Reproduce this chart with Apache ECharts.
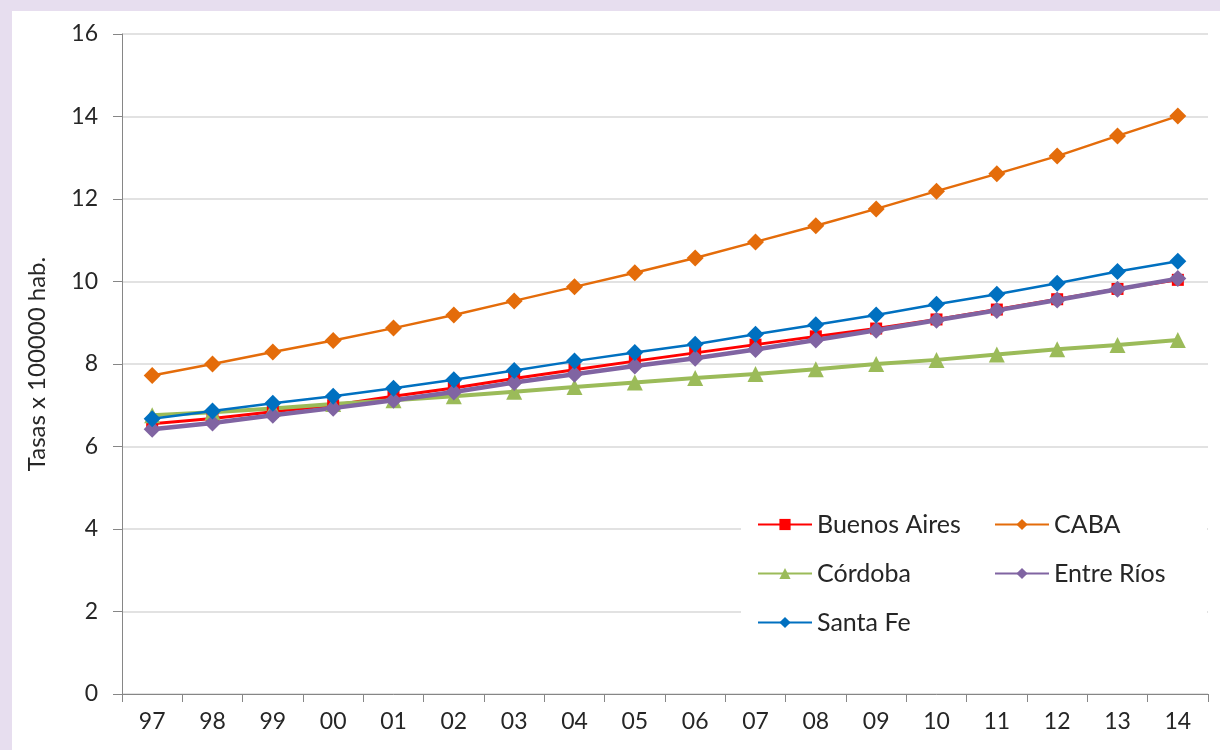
<!DOCTYPE html>
<html>
<head>
<meta charset="utf-8">
<script src="https://cdn.jsdelivr.net/npm/echarts@6/dist/echarts.min.js"></script>
<style>
  html, body { margin: 0; padding: 0; background: #ffffff; }
  #chart { width: 1220px; height: 750px; }
</style>
</head>
<body>
<div id="chart"></div>
<script>
// Años (97 a 14)
const years = ['97','98','99','00','01','02','03','04','05','06','07','08','09','10','11','12','13','14'];

// Tasas x 100000 hab. por jurisdicción
const buenosAires = [6.55, 6.68, 6.84, 7.00, 7.22, 7.42, 7.65, 7.86, 8.07, 8.27, 8.47, 8.67, 8.86, 9.08, 9.32, 9.57, 9.82, 10.04];
const caba        = [7.72, 8.00, 8.29, 8.57, 8.87, 9.19, 9.53, 9.87, 10.21, 10.57, 10.96, 11.35, 11.76, 12.19, 12.61, 13.04, 13.53, 14.01];
const cordoba     = [6.76, 6.83, 6.92, 7.03, 7.12, 7.22, 7.33, 7.44, 7.55, 7.66, 7.76, 7.87, 8.00, 8.10, 8.23, 8.36, 8.46, 8.58];
const entreRios   = [6.42, 6.57, 6.76, 6.93, 7.12, 7.32, 7.55, 7.75, 7.95, 8.14, 8.35, 8.58, 8.82, 9.06, 9.30, 9.55, 9.81, 10.07];
const santaFe     = [6.67, 6.86, 7.05, 7.22, 7.41, 7.62, 7.84, 8.07, 8.28, 8.48, 8.72, 8.95, 9.19, 9.45, 9.69, 9.96, 10.24, 10.49];

const yTicks = { min: 0, max: 16, interval: 2 };

const FONT = 'Lato, "Open Sans", sans-serif';
const TEXT = '#262626';

function lineSeries(name, data, color, width, symbol, size) {
  return {
    name, type: 'line', data,
    symbol, symbolSize: size,
    showSymbol: true,
    lineStyle: { color, width },
    itemStyle: { color },
    emphasis: { disabled: true },
    animation: false
  };
}

const legendText = { fontSize: 25, lineHeight: 25, color: TEXT, fontFamily: FONT };

const chart = echarts.init(document.getElementById('chart'));
chart.setOption({
  backgroundColor: '#e7deef',
  textStyle: { fontFamily: FONT },
  graphic: [
    { type: 'rect', z: -10, silent: true,
      shape: { x: 12, y: 11, width: 1208, height: 739 },
      style: { fill: '#ffffff' } },
    { type: 'rect', z: 5, silent: true,
      shape: { x: 741, y: 498, width: 466, height: 150 },
      style: { fill: '#ffffff' } }
  ],
  grid: { left: 122, top: 34, right: 12, bottom: 56, containLabel: false },
  legend: [
    {
      z: 10, orient: 'vertical', left: 752, top: 507, itemGap: 24,
      itemWidth: 54, itemHeight: 14,
      textStyle: legendText,
      data: ['Buenos Aires', 'Córdoba', 'Santa Fe']
    },
    {
      z: 10, orient: 'vertical', left: 989, top: 507, itemGap: 24,
      itemWidth: 54, itemHeight: 14,
      textStyle: legendText,
      data: ['CABA', 'Entre Ríos']
    }
  ],
  xAxis: {
    type: 'category', data: years, boundaryGap: true,
    axisLine: { lineStyle: { color: '#868686', width: 1 } },
    axisTick: { show: true, length: 8, alignWithLabel: false, lineStyle: { color: '#868686' } },
    axisLabel: { fontSize: 23, color: TEXT, margin: 16, fontFamily: FONT },
    splitLine: { show: false }
  },
  yAxis: {
    type: 'value', min: yTicks.min, max: yTicks.max, interval: yTicks.interval,
    name: 'Tasas x 100000 hab.', nameLocation: 'middle', nameGap: 73, nameRotate: 90,
    nameTextStyle: { fontSize: 24, color: TEXT, fontFamily: FONT },
    axisLine: { show: true, lineStyle: { color: '#868686', width: 1 } },
    axisTick: { show: true, length: 9, inside: false, lineStyle: { color: '#868686' } },
    axisLabel: { fontSize: 23, color: TEXT, margin: 24, fontFamily: FONT },
    splitLine: { show: true, lineStyle: { color: '#d9d9d9', width: 1.5 } }
  },
  series: [
    lineSeries('Buenos Aires', buenosAires, '#ff0000', 3, 'rect', 12),
    lineSeries('CABA', caba, '#e46c0a', 2.5, 'diamond', 17),
    lineSeries('Córdoba', cordoba, '#9bbb59', 4, 'triangle', 16),
    lineSeries('Entre Ríos', entreRios, '#8064a2', 4.5, 'diamond', 17),
    lineSeries('Santa Fe', santaFe, '#0070c0', 2.5, 'diamond', 17)
  ]
});
</script>
</body>
</html>
